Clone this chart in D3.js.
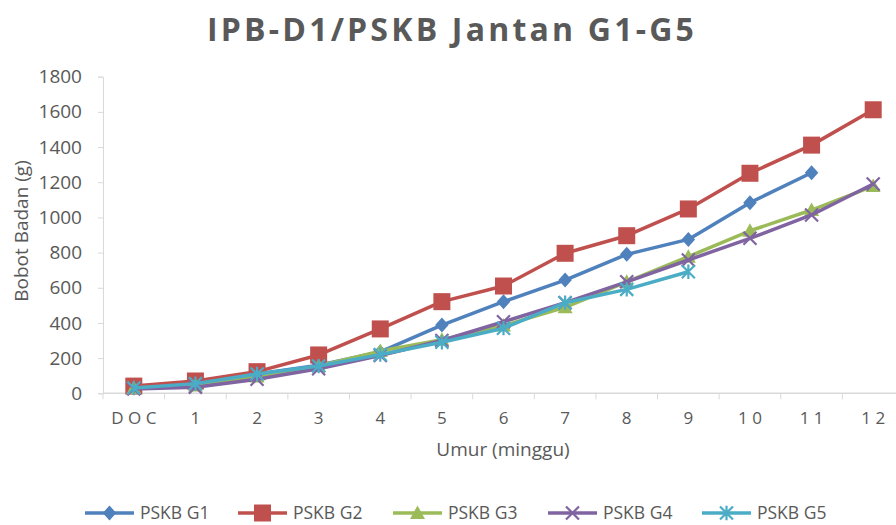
<!DOCTYPE html>
<html>
<head>
<meta charset="utf-8">
<script src="https://cdn.jsdelivr.net/npm/d3@7"></script>
<style>
  body { margin: 0; background: #fff; }
  svg { font-family: "Open Sans", "Noto Sans", sans-serif; }
</style>
</head>
<body>
<div id="chart"></div>
<script>
// Categories (umur, minggu)
const weeks = ["DOC", "1", "2", "3", "4", "5", "6", "7", "8", "9", "10", "11", "12"];
const weekLabels = ["D O C", "1", "2", "3", "4", "5", "6", "7", "8", "9", "1 0", "1 1", "1 2"];

// Bobot badan (g) per generation
const g1 = [35, 55, 110, 160, 235, 388, 521, 644, 790, 875, 1084, 1254, null];
const g2 = [41, 70, 123, 218, 366, 521, 610, 796, 896, 1048, 1251, 1411, 1612];
const g3 = [30, 45, 95, 155, 240, 305, 385, 489, 634, 777, 924, 1042, 1178];
const g4 = [25, 35, 80, 140, 215, 300, 407, 515, 634, 758, 881, 1014, 1190];
const g5 = [30, 55, 110, 155, 220, 290, 370, 515, 591, 691, null, null, null];

const seriesNames = ["PSKB G1", "PSKB G2", "PSKB G3", "PSKB G4", "PSKB G5"];
const yTicks = [0, 200, 400, 600, 800, 1000, 1200, 1400, 1600, 1800];

const colors = ["#4f81bd", "#c0504d", "#9bbb59", "#8064a2", "#4bacc6"];
const markers = ["diamond", "square", "triangle", "cross", "star"];
const markerSize = [7.5, 8.5, 7.5, 6.5, 6.5];
const allSeries = [g1, g2, g3, g4, g5];

const width = 896, height = 525;
const svg = d3.select("#chart").append("svg")
  .attr("width", width)
  .attr("height", height);

const x = d3.scaleBand()
  .domain(weeks)
  .range([103, 904]);

const y = d3.scaleLinear()
  .domain([0, 1800])
  .range([393.3, 76.7]);

const axisColor = "#d9d9d9";
const textColor = "#595959";

// Title
svg.append("text")
  .attr("x", 452)
  .attr("y", 41)
  .attr("text-anchor", "middle")
  .attr("font-size", 32)
  .attr("font-weight", "bold")
  .attr("letter-spacing", 3.2)
  .attr("fill", textColor)
  .text("IPB-D1/PSKB  Jantan  G1-G5");

// Y axis
const yAxis = svg.append("g")
  .attr("transform", "translate(103,0)")
  .call(d3.axisLeft(y).tickValues(yTicks).tickFormat(d3.format("d")).tickSize(5).tickPadding(16));
yAxis.selectAll("path, line").attr("stroke", axisColor);
yAxis.selectAll("text")
  .attr("font-size", 19)
  .attr("fill", textColor)
  .attr("font-family", "Open Sans, sans-serif");

// X axis
const xAxis = svg.append("g")
  .attr("transform", "translate(0,393.3)");
xAxis.append("line")
  .attr("x1", x.range()[0]).attr("x2", x.range()[1])
  .attr("stroke", axisColor).attr("stroke-width", 1.5);
xAxis.selectAll(".tick")
  .data(weeks.concat(["_end"]))
  .join("line")
  .attr("x1", (d, i) => x.range()[0] + i * x.bandwidth())
  .attr("x2", (d, i) => x.range()[0] + i * x.bandwidth())
  .attr("y1", 0).attr("y2", 6)
  .attr("stroke", axisColor);
xAxis.selectAll(".lbl")
  .data(weeks)
  .join("text")
  .attr("x", d => x(d) + x.bandwidth() / 2)
  .attr("y", 31)
  .attr("text-anchor", "middle")
  .attr("font-size", 17)
  .attr("fill", textColor)
  .text((d, i) => weekLabels[i]);

// Axis titles
svg.append("text")
  .attr("x", 503)
  .attr("y", 456)
  .attr("text-anchor", "middle")
  .attr("font-size", 19)
  .attr("fill", textColor)
  .text("Umur (minggu)");

svg.append("text")
  .attr("transform", "translate(28,231) rotate(-90)")
  .attr("text-anchor", "middle")
  .attr("font-size", 19)
  .attr("fill", textColor)
  .text("Bobot Badan (g)");

// Marker drawing
function drawMarker(g, type, color, cx, cy, s) {
  if (type === "diamond") {
    g.append("path")
      .attr("d", `M${cx},${cy - s}L${cx + s * 0.9},${cy}L${cx},${cy + s}L${cx - s * 0.9},${cy}Z`)
      .attr("fill", color);
  } else if (type === "square") {
    g.append("rect")
      .attr("x", cx - s).attr("y", cy - s)
      .attr("width", 2 * s).attr("height", 2 * s)
      .attr("fill", color);
  } else if (type === "triangle") {
    g.append("path")
      .attr("d", `M${cx},${cy - s}L${cx + s},${cy + s * 0.8}L${cx - s},${cy + s * 0.8}Z`)
      .attr("fill", color);
  } else if (type === "cross") {
    g.append("path")
      .attr("d", `M${cx - s},${cy - s}L${cx + s},${cy + s}M${cx + s},${cy - s}L${cx - s},${cy + s}`)
      .attr("stroke", color).attr("stroke-width", 2.2);
  } else if (type === "star") {
    g.append("path")
      .attr("d", `M${cx - s},${cy - s}L${cx + s},${cy + s}M${cx + s},${cy - s}L${cx - s},${cy + s}M${cx},${cy - s * 1.1}L${cx},${cy + s * 1.1}`)
      .attr("stroke", color).attr("stroke-width", 2.2);
  }
}

const line = d3.line()
  .defined(d => d.v != null)
  .x(d => x(d.w) + x.bandwidth() / 2)
  .y(d => y(d.v));

allSeries.forEach((vals, si) => {
  const data = weeks.map((w, i) => ({ w: w, v: vals[i] }));
  const g = svg.append("g");
  g.append("path")
    .datum(data)
    .attr("fill", "none")
    .attr("stroke", colors[si])
    .attr("stroke-width", 3.5)
    .attr("stroke-linejoin", "round")
    .attr("d", line);
  data.filter(d => d.v != null).forEach(d => {
    drawMarker(g, markers[si], colors[si], x(d.w) + x.bandwidth() / 2, y(d.v), markerSize[si]);
  });
});

// Legend
const legendX = [85, 238, 393, 548, 702];
const legend = svg.append("g");
seriesNames.forEach((name, i) => {
  const lx = legendX[i], ly = 513;
  legend.append("line")
    .attr("x1", lx).attr("x2", lx + 49)
    .attr("y1", ly).attr("y2", ly)
    .attr("stroke", colors[i]).attr("stroke-width", 3.5);
  drawMarker(legend, markers[i], colors[i], lx + 24.5, ly, markerSize[i]);
  legend.append("text")
    .attr("x", lx + 55)
    .attr("y", ly + 6)
    .attr("font-size", 17.5)
    .attr("fill", textColor)
    .text(name);
});
</script>
</body>
</html>
